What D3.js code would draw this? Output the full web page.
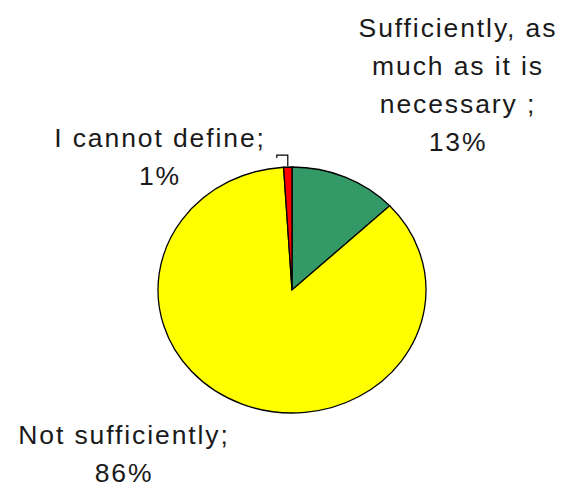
<!DOCTYPE html>
<html><head><meta charset="utf-8">
<script src="https://cdn.jsdelivr.net/npm/d3@7"></script>
<style>
html,body{margin:0;padding:0;background:#fff;}
svg{display:block;}
text{font-family:"Liberation Sans",Arial,sans-serif;fill:#1a1a1a;}
</style></head>
<body>
<svg id="chart" width="570" height="490"></svg>
<script>
const categories = ["Sufficiently, as much as it is necessary ;", "Not sufficiently;", "I cannot define;"];
const values = [13, 86, 1];
const colors = ["#339966", "#FFFF00", "#FF0000"];
const labelLines = [
  ["Sufficiently, as", "much as it is", "necessary ;"],
  ["Not sufficiently;"],
  ["I cannot define;"]
];

const svg = d3.select("#chart");
const cx = 292, cy = 290, ry = 123, rx = 134;

const pie = d3.pie().sort(null).value(d => d)(values);
const arc = d3.arc().innerRadius(0).outerRadius(ry);

const g = svg.append("g").attr("transform", `translate(${cx},${cy}) scale(${rx/ry},1)`);
g.selectAll("path").data(pie).enter().append("path")
  .attr("d", arc)
  .attr("fill", (d,i) => colors[i])
  .attr("stroke", "#000")
  .attr("stroke-width", 1.3)
  .attr("vector-effect", "non-scaling-stroke");

// label positions (center x, first baseline)
const labelPos = [[458, 37], [124, 444], [160, 147]];
const lh = 38;
labelLines.forEach((lines, i) => {
  const all = lines.concat([values[i] + "%"]);
  const t = svg.append("text")
    .attr("text-anchor", "middle")
    .attr("font-size", 26.5)
    .attr("letter-spacing", 1.9);
  all.forEach((s, j) => {
    t.append("tspan").attr("x", labelPos[i][0]).attr("y", labelPos[i][1] + j*lh).text(s);
  });
});

// leader line for the small slice
const red = pie[2];
const mid = (red.startAngle + red.endAngle) / 2;
const ex = cx + rx * Math.sin(mid), ey = cy - ry * Math.cos(mid);
svg.append("path")
  .attr("d", `M${ex},${ey - 1} L${ex},${ey - 12} L${ex - 11},${ey - 12} L${ex - 11},${ey - 9}`)
  .attr("fill", "none").attr("stroke", "#000").attr("stroke-width", 1.2);
</script>
</body></html>
